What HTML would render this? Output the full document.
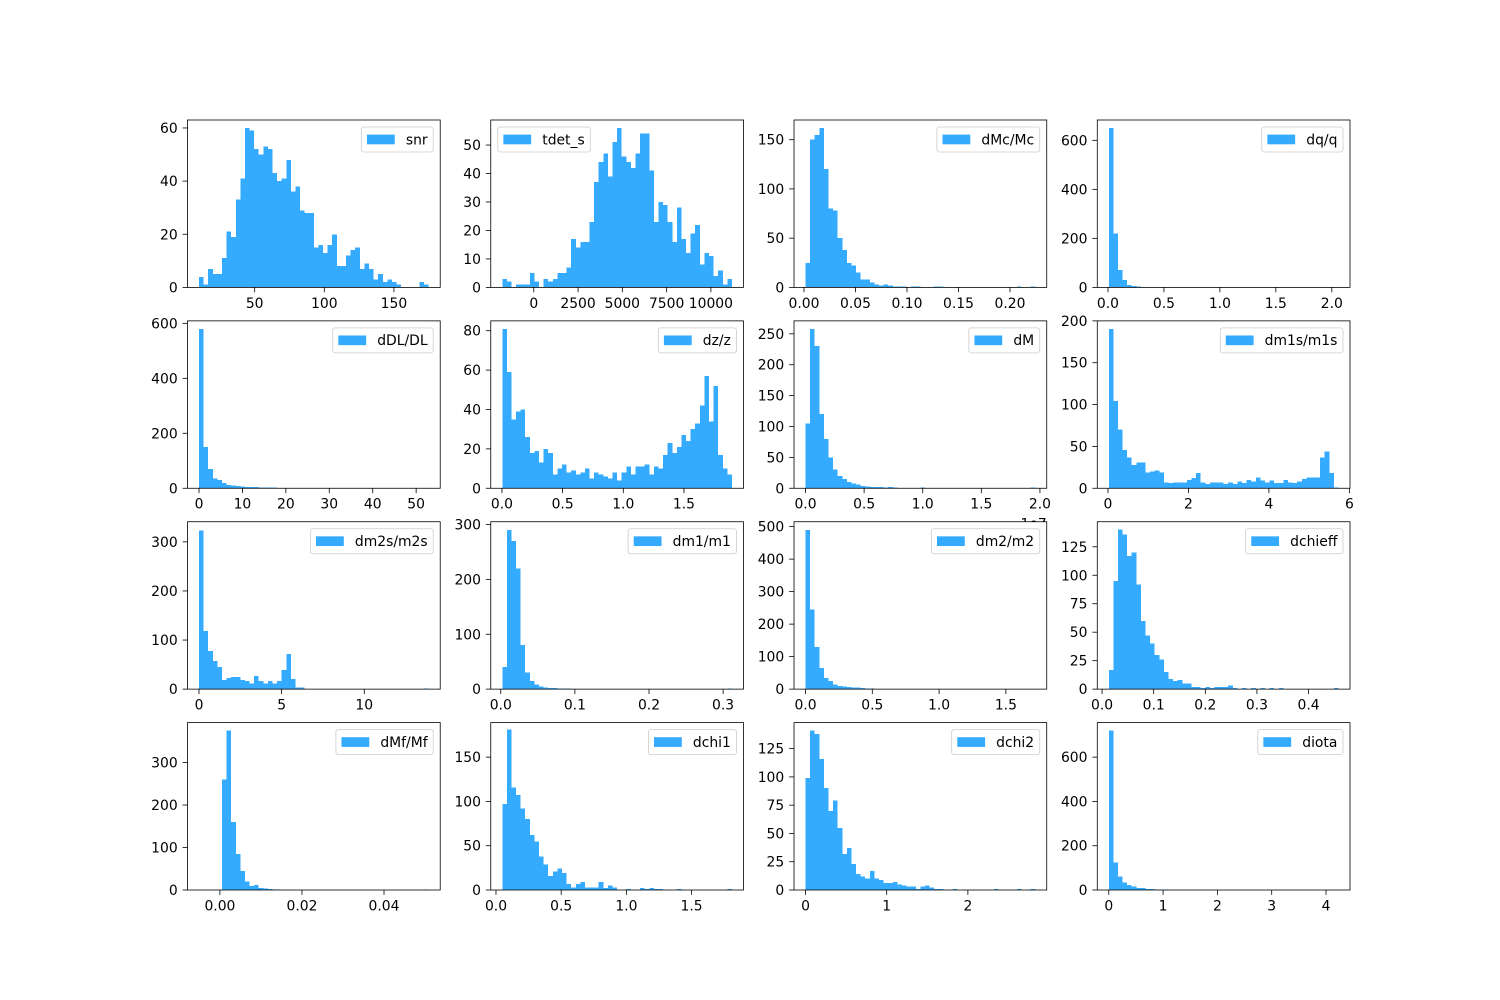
<!DOCTYPE html>
<html><head><meta charset="utf-8"><style>
html,body{margin:0;padding:0;background:#fff;}
svg{display:block;font-family:"DejaVu Sans","Liberation Sans",sans-serif;}
</style></head><body>
<svg id="s" width="1500" height="1000" xmlns="http://www.w3.org/2000/svg"></svg>
<script>
const P=[
{n:"snr",lo:10,hi:175,ym:63,yt:[0,20,40,60],xt:[[50,"50"],[100,"100"],[150,"150"]],
h:[4,1,7,5,5,11,21,19,33,41,60,59,52,50,53,52,43,40,41,48,36,38,29,28,28,15,16,13,16,20,8,8,12,14,15,7,9,7,3,5,2,3,2,1,0,0,0,0,2,1]},
{n:"tdet_s",lo:-1780,hi:11190,ym:58.8,yt:[0,10,20,30,40,50],xt:[[0,"0"],[2500,"2500"],[5000,"5000"],[7500,"7500"],[10000,"10000"]],left:true,
h:[3,2,0,1,1,1,5,2,0,3,2,3,5,5,7,17,14,16,16,23,37,44,47,39,51,56,46,44,42,47,54,54,41,23,30,29,23,16,28,17,12,19,22,8,12,11,4,6,1,3]},
{n:"dMc/Mc",lo:0.0015,hi:0.2245,ym:170,yt:[0,50,100,150],xt:[[0,"0.00"],[0.05,"0.05"],[0.1,"0.10"],[0.15,"0.15"],[0.2,"0.20"]],
h:[25,150,155,162,120,80,78,50,38,25,22,15,8,8,5,3,2,3,2,1,1,1,0,1,1,0,0,0,1,1,0,0,0,0,0,0,0,0,0,0,0,0,0,0,0,0,1,0,0,1]},
{n:"dq/q",lo:0.007,hi:2.06,ym:683,yt:[0,200,400,600],xt:[[0,"0.0"],[0.5,"0.5"],[1,"1.0"],[1.5,"1.5"],[2,"2.0"]],
h:[650,220,70,30,10,5,3,2,1,1,1,0,1,0,0,0,0,0,0,0,0,0,0,0,0,0,0,0,0,0,0,0,0,0,0,0,0,0,0,0,0,0,0,0,0,0,0,0,0,1]},
{n:"dDL/DL",lo:0,hi:52.9,ym:609,yt:[0,200,400,600],xt:[[0,"0"],[10,"10"],[20,"20"],[30,"30"],[40,"40"],[50,"50"]],
h:[580,150,70,35,30,20,12,10,8,6,5,5,4,3,3,2,2,1,1,1,1,0,0,0,0,0,0,0,0,0,0,0,0,0,0,0,0,0,0,0,0,0,0,0,0,0,0,0,0,1]},
{n:"dz/z",lo:0.0025,hi:1.896,ym:85,yt:[0,20,40,60,80],xt:[[0,"0.0"],[0.5,"0.5"],[1,"1.0"],[1.5,"1.5"]],
h:[81,59,35,39,40,26,18,19,13,20,18,7,10,12,8,9,7,8,10,5,8,7,6,5,8,4,8,11,7,11,11,12,7,11,10,17,23,18,21,27,24,30,33,42,57,34,52,17,10,7]},
{n:"dM",lo:0,hi:1.96,ym:271,yt:[0,50,100,150,200,250],xt:[[0,"0.0"],[0.5,"0.5"],[1,"1.0"],[1.5,"1.5"],[2,"2.0"]],off:"1e7",
h:[105,258,230,120,80,50,30,20,15,10,8,6,4,3,2,2,2,1,2,1,0,0,0,0,0,1,0,0,0,0,0,0,0,0,0,0,0,0,0,0,0,0,0,0,0,0,0,0,0,1]},
{n:"dm1s/m1s",lo:0.02,hi:5.73,ym:200,yt:[0,50,100,150,200],xt:[[0,"0"],[2,"2"],[4,"4"],[6,"6"]],
h:[190,104,70,46,37,28,31,31,19,20,21,19,7,6,7,7,7,10,12,18,7,5,7,7,7,5,7,5,8,6,10,8,13,9,7,9,6,6,10,7,6,8,11,13,13,13,37,44,18,1]},
{n:"dm2s/m2s",lo:0,hi:13.9,ym:341,yt:[0,100,200,300],xt:[[0,"0"],[5,"5"],[10,"10"]],
h:[323,118,78,57,45,19,23,25,25,19,17,11,27,17,11,17,11,17,39,72,21,3,3,0,0,0,0,0,0,0,0,0,0,0,0,0,0,0,0,0,0,0,0,0,0,0,0,0,0,1]},
{n:"dm1/m1",lo:0.002,hi:0.312,ym:305,yt:[0,100,200,300],xt:[[0,"0.0"],[0.1,"0.1"],[0.2,"0.2"],[0.3,"0.3"]],
h:[40,290,270,220,80,30,15,8,5,3,2,2,1,1,1,0,0,0,0,0,0,0,0,0,0,0,0,0,0,0,0,0,0,0,0,0,0,0,0,0,0,0,0,0,0,0,0,0,0,1]},
{n:"dm2/m2",lo:0,hi:1.72,ym:515,yt:[0,100,200,300,400,500],xt:[[0,"0.0"],[0.5,"0.5"],[1,"1.0"],[1.5,"1.5"]],
h:[490,245,130,65,35,25,15,10,8,6,5,5,3,2,2,1,1,1,0,1,0,0,0,0,0,0,0,0,0,0,0,0,0,0,0,0,0,0,0,0,0,0,0,0,0,0,0,0,0,1]},
{n:"dchieff",lo:0.013,hi:0.458,ym:147,yt:[0,25,50,75,100,125],xt:[[0,"0.0"],[0.1,"0.1"],[0.2,"0.2"],[0.3,"0.3"],[0.4,"0.4"]],
h:[17,95,140,136,117,120,92,60,47,40,30,26,15,9,7,8,5,5,2,2,1,2,1,2,2,2,3,1,0,1,0,1,0,1,0,1,0,1,0,0,0,0,0,0,0,0,0,0,0,1]},
{n:"dMf/Mf",lo:-0.0051,hi:0.0509,ym:394,yt:[0,100,200,300],xt:[[0,"0.00"],[0.02,"0.02"],[0.04,"0.04"]],
h:[0,0,0,0,0,260,375,160,85,45,20,10,12,5,3,2,1,1,0,0,0,0,0,0,0,0,0,0,0,0,0,0,0,0,0,0,0,0,0,0,0,0,0,0,0,0,0,0,0,1]},
{n:"dchi1",lo:0.048,hi:1.81,ym:189,yt:[0,50,100,150],xt:[[0,"0.0"],[0.5,"0.5"],[1,"1.0"],[1.5,"1.5"]],
h:[97,181,116,107,92,80,62,55,38,29,16,21,24,19,7,3,7,9,3,3,3,9,2,5,3,0,0,1,0,0,2,1,2,1,1,0,0,0,1,0,0,0,0,0,0,0,0,0,0,1]},
{n:"dchi2",lo:0,hi:2.83,ym:148,yt:[0,25,50,75,100,125],xt:[[0,"0"],[1,"1"],[2,"2"]],
h:[99,141,138,116,90,70,79,55,32,37,23,14,12,10,17,10,9,6,6,7,5,4,3,3,1,3,4,2,1,1,0,0,1,0,0,0,0,0,0,0,0,1,0,0,0,0,1,0,0,1]},
{n:"diota",lo:0,hi:4.23,ym:756,yt:[0,200,400,600],xt:[[0,"0"],[1,"1"],[2,"2"],[3,"3"],[4,"4"]],
h:[720,125,60,35,22,15,10,8,5,5,3,2,2,1,1,1,0,1,0,0,0,0,1,0,0,0,0,0,0,0,0,0,0,0,0,0,0,0,0,0,0,0,0,0,0,0,0,0,0,1]}
];
const S=document.getElementById('s'),NS="http://www.w3.org/2000/svg";
function el(t,a,txt){const e=document.createElementNS(NS,t);for(const k in a)e.setAttribute(k,a[k]);if(txt!==undefined)e.textContent=txt;S.appendChild(e);return e;}
const W=252.72,H=167.39,XL=[187.5,490.76,794.02,1097.28],YT=[120,320.87,521.74,722.61];
const C="#35abff",FS=13.9;
P.forEach((p,i)=>{
 const r=i>>2,c=i&3,x0=XL[c],y0=YT[r],y1=y0+H;
 el('rect',{x:x0,y:y0,width:W,height:H,fill:'#fff'});
 const d=p.hi-p.lo,a=p.lo-0.05*d,b=p.hi+0.05*d;
 const X=v=>x0+(v-a)/(b-a)*W,Y=v=>y1-v/p.ym*H;
 const n=p.h.length,bw=d/n;
 let path="";
 p.h.forEach((v,k)=>{if(v>0){const xa=X(p.lo+k*bw),xb=X(p.lo+(k+1)*bw),yy=Y(v);path+=`M${xa.toFixed(2)},${y1}V${yy.toFixed(2)}H${xb.toFixed(2)}V${y1}Z`;}});
 el('path',{d:path,fill:C,'shape-rendering':'crispEdges'});
 el('rect',{x:x0,y:y0,width:W,height:H,fill:'none',stroke:'#000','stroke-width':0.8});
 p.xt.forEach(([v,l])=>{const xx=X(v);el('line',{x1:xx,x2:xx,y1:y1,y2:y1+4.9,stroke:'#000','stroke-width':0.8});
  el('text',{x:xx,y:y1+9.8+FS*0.76,'font-size':FS,'text-anchor':'middle'},l);});
 p.yt.forEach(v=>{const yy=Y(v);el('line',{x1:x0-4.9,x2:x0,y1:yy,y2:yy,stroke:'#000','stroke-width':0.8});
  el('text',{x:x0-9.8,y:yy+FS*0.36,'font-size':FS,'text-anchor':'end'},String(v));});
 if(p.off){el('text',{x:x0+W,y:y1+40,'font-size':FS,'text-anchor':'end'},p.off);}
 // legend
 const g=el('g',{});
 const t=document.createElementNS(NS,'text');t.setAttribute('font-size',FS);t.textContent=p.n;g.appendChild(t);
 const tw=t.getComputedTextLength();
 const bwid=5.6+27.8+11.1+tw+5.6,bh=25;
 const lx=p.left?x0+7:x0+W-7-bwid,ly=y0+7;
 const box=document.createElementNS(NS,'rect');
 Object.entries({x:lx,y:ly,width:bwid,height:bh,rx:2.5,fill:'#fff','fill-opacity':0.8,stroke:'#ccc','stroke-width':0.8}).forEach(([k,v])=>box.setAttribute(k,v));
 g.insertBefore(box,t);
 const pt=document.createElementNS(NS,'rect');
 Object.entries({x:lx+5.6,y:ly+7.6,width:27.8,height:9.7,fill:C}).forEach(([k,v])=>pt.setAttribute(k,v));
 g.insertBefore(pt,t);
 t.setAttribute('x',lx+5.6+27.8+11.1);t.setAttribute('y',ly+17.3);
});
// redraw third-row third panel top border area to clip offset text
(function(){const e=el('rect',{x:794.02,y:521.74,width:252.72,height:4,fill:'none'});})();
</script>
</body></html>
